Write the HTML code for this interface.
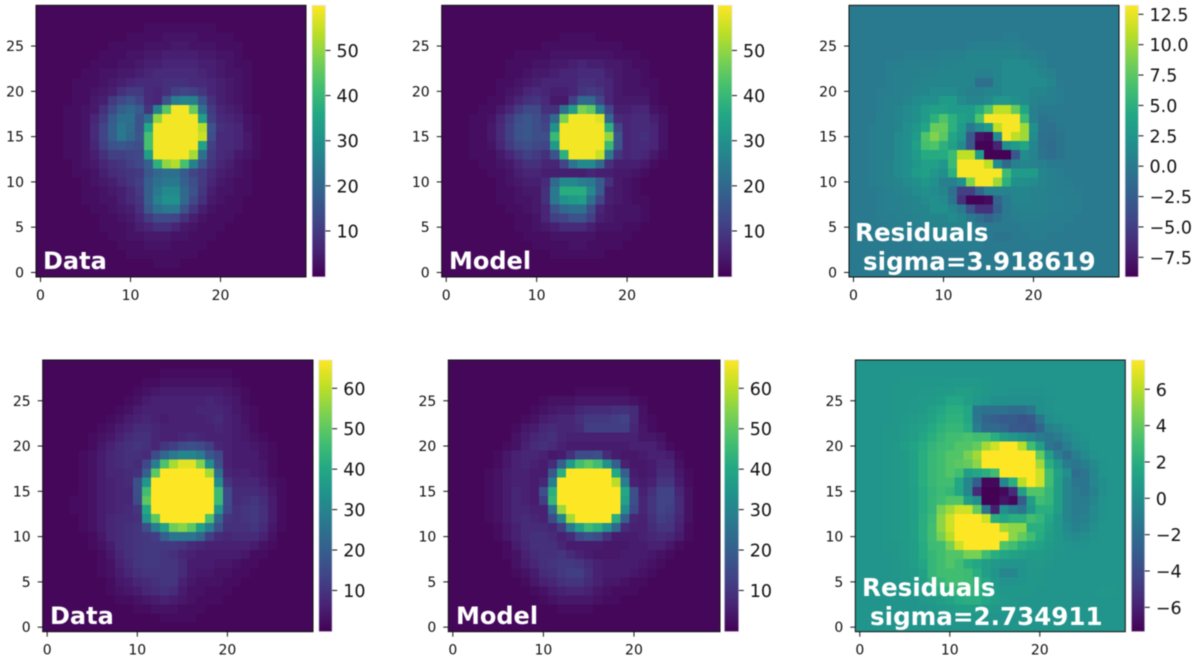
<!DOCTYPE html>
<html lang="en">
<head>
<meta charset="utf-8">
<title>PSF data, model and residuals</title>
<style>
html,body{margin:0;padding:0;background:#fff;width:1200px;height:663px;overflow:hidden}
svg{display:block;font-family:"DejaVu Sans","Liberation Sans",sans-serif;filter:blur(0.55px)}
.ann{font-weight:700;font-size:24px;fill:#fff;white-space:pre}
.ann-wide{font-size:24.6px}
</style>
</head>
<body>
<svg id="fig" width="1200" height="663" viewBox="0 0 1200 663" xmlns="http://www.w3.org/2000/svg">
<defs>
<linearGradient id="viridis-gradient" x1="0" y1="1" x2="0" y2="0">
<stop offset="0" stop-color="#440154"/><stop offset="0.1" stop-color="#482475"/><stop offset="0.2" stop-color="#414487"/><stop offset="0.3" stop-color="#355f8d"/><stop offset="0.4" stop-color="#2a788e"/><stop offset="0.5" stop-color="#21918c"/><stop offset="0.6" stop-color="#22a884"/><stop offset="0.7" stop-color="#44bf70"/><stop offset="0.8" stop-color="#7ad151"/><stop offset="0.9" stop-color="#bddf26"/><stop offset="1" stop-color="#fde725"/>
</linearGradient>
</defs>
<g id="plots"></g>
<g>
<text class="ann" x="43" y="269">Data</text>
<text class="ann" x="449" y="269">Model</text>
<text class="ann ann-wide" x="855" y="241">Residuals</text>
<text class="ann ann-wide" x="863" y="270">sigma=3.918619</text>
<text class="ann" x="50" y="624">Data</text>
<text class="ann" x="456" y="624">Model</text>
<text class="ann ann-wide" x="862" y="596">Residuals</text>
<text class="ann ann-wide" x="870" y="625">sigma=2.734911</text>
</g>
</svg>
<script>
// Rows are listed from the top of each image (row 29) down to row 0.
const dataTop = [
[1,1,1,1,1,1,1,1,1,1,1,1,1,1,1,1,1,1,1,1,1,1,1,1,1,1,1,1,1,1],
[1,1,1,1,1,1,1,1,1,1,1,1,1,1,1,1,1,1,1,1,1,1,1,1,1,1,1,1,1,1],
[1,1,1,1,1,1,1,1,1,1,1,1,2,2,2,2,2,2,2,2,1,1,1,1,1,1,1,1,1,1],
[1,1,1,1,1,1,1,1,1,1,2,2,2,2,3,3,3,3,2,2,2,2,1,1,1,1,1,1,1,1],
[1,1,1,1,1,1,1,1,2,2,2,2,3,3,3,4,4,3,3,3,2,2,2,1,1,1,1,1,1,1],
[1,1,1,1,1,1,1,2,2,2,3,3,4,4,5,5,5,5,4,4,3,3,2,1,1,1,1,1,1,1],
[1,1,1,1,1,1,2,2,2,3,3,4,5,5,6,6,6,6,5,5,4,3,2,2,1,1,1,1,1,1],
[1,1,1,1,1,2,2,3,3,4,4,5,6,7,7,7,7,7,6,5,4,3,3,2,1,1,1,1,1,1],
[1,1,1,1,2,2,2,3,4,5,6,7,7,7,8,8,8,7,7,6,5,4,3,2,1,1,1,1,1,1],
[1,1,1,1,2,2,3,4,5,8,10,10,7,6,8,11,12,11,9,6,5,4,3,2,1,1,1,1,1,1],
[1,1,1,1,2,2,4,5,10,13,15,12,7,6,15,25,27,26,15,8,5,4,3,2,1,1,1,1,1,1],
[1,1,1,2,2,3,4,8,13,18,20,17,9,26,44,59,59,46,22,10,6,5,4,2,1,1,1,1,1,1],
[1,1,1,2,2,3,6,10,17,22,22,15,22,50,59,59,59,59,33,11,7,6,5,3,2,1,1,1,1,1],
[1,1,1,2,2,3,7,12,18,24,21,15,36,59,59,59,59,59,53,15,8,7,6,3,2,1,1,1,1,1],
[1,1,1,2,2,3,7,12,18,24,20,16,42,59,59,59,59,59,55,14,7,7,6,4,2,1,1,1,1,1],
[1,1,1,2,2,3,6,11,15,16,15,14,42,59,59,59,59,59,34,11,7,7,6,4,2,1,1,1,1,1],
[1,1,1,2,2,3,5,8,11,11,12,13,33,59,59,59,59,52,22,10,7,6,4,3,2,1,1,1,1,1],
[1,1,1,1,2,3,4,6,8,9,11,13,18,38,50,53,42,26,15,9,6,5,3,2,1,1,1,1,1,1],
[1,1,1,1,2,2,3,5,7,8,9,10,16,20,22,22,17,12,10,7,5,4,3,2,1,1,1,1,1,1],
[1,1,1,1,1,2,3,4,5,7,9,11,18,22,24,24,18,14,10,6,4,3,2,2,1,1,1,1,1,1],
[1,1,1,1,1,2,2,3,4,5,7,10,18,24,28,28,20,15,9,5,3,3,2,2,1,1,1,1,1,1],
[1,1,1,1,1,2,2,3,3,5,7,9,18,26,30,30,20,13,8,4,3,2,2,1,1,1,1,1,1,1],
[1,1,1,1,1,1,2,2,3,4,5,8,16,22,24,24,15,9,5,3,2,2,2,1,1,1,1,1,1,1],
[1,1,1,1,1,1,1,2,2,3,4,6,10,13,13,12,8,5,3,2,2,2,1,1,1,1,1,1,1,1],
[1,1,1,1,1,1,1,2,2,2,3,5,6,8,8,6,4,3,2,2,2,1,1,1,1,1,1,1,1,1],
[1,1,1,1,1,1,1,1,2,2,3,3,4,4,4,3,3,2,2,2,1,1,1,1,1,1,1,1,1,1],
[1,1,1,1,1,1,1,1,1,2,2,2,3,3,3,2,2,2,2,1,1,1,1,1,1,1,1,1,1,1],
[1,1,1,1,1,1,1,1,1,1,2,2,2,2,2,2,2,2,1,1,1,1,1,1,1,1,1,1,1,1],
[1,1,1,1,1,1,1,1,1,1,1,1,1,2,2,2,1,1,1,1,1,1,1,1,1,1,1,1,1,1],
[1,1,1,1,1,1,1,1,1,1,1,1,1,1,1,1,1,1,1,1,1,1,1,1,1,1,1,1,1,1]
];
const modelTop = [
[1,1,1,1,1,1,1,1,1,1,1,1,1,1,1,1,1,1,1,1,1,1,1,1,1,1,1,1,1,1],
[1,1,1,1,1,1,1,1,1,1,1,1,1,1,1,1,1,1,1,1,1,1,1,1,1,1,1,1,1,1],
[1,1,1,1,1,1,1,1,1,1,1,1,1,1,1,1,1,1,1,1,1,1,1,1,1,1,1,1,1,1],
[1,1,1,1,1,1,1,1,1,1,1,1,1,2,2,2,2,1,1,1,1,1,1,1,1,1,1,1,1,1],
[1,1,1,1,1,1,1,1,1,1,1,2,2,2,2,2,2,2,2,2,1,1,1,1,1,1,1,1,1,1],
[1,1,1,1,1,1,1,1,2,2,2,2,3,3,3,3,3,3,3,2,2,2,1,1,1,1,1,1,1,1],
[1,1,1,1,1,1,1,2,2,2,3,3,4,4,5,6,5,5,4,4,3,2,2,1,1,1,1,1,1,1],
[1,1,1,1,1,1,1,2,2,3,4,4,5,6,6,7,7,7,5,4,3,3,2,1,1,1,1,1,1,1],
[1,1,1,1,1,1,2,2,3,4,5,6,6,6,6,8,8,7,6,4,3,3,2,2,1,1,1,1,1,1],
[1,1,1,1,1,1,2,3,4,6,7,6,5,5,6,9,10,9,6,4,3,3,3,2,1,1,1,1,1,1],
[1,1,1,1,1,2,2,4,6,8,9,7,4,4,11,20,20,12,6,4,4,4,4,2,1,1,1,1,1,1],
[1,1,1,1,2,2,4,6,10,13,13,8,8,22,33,48,45,26,12,5,5,6,6,3,2,1,1,1,1,1],
[1,1,1,2,2,3,6,10,14,16,14,11,20,48,59,59,59,57,20,7,6,7,7,5,3,1,1,1,1,1],
[1,1,1,2,2,4,7,11,15,16,14,12,30,59,59,59,59,59,38,12,6,7,7,6,3,1,1,1,1,1],
[1,1,1,2,2,4,7,11,15,16,14,14,40,59,59,59,59,59,50,16,6,7,8,6,3,1,1,1,1,1],
[1,1,1,2,2,3,6,10,13,14,13,12,32,59,59,59,59,59,40,15,6,7,7,6,3,1,1,1,1,1],
[1,1,1,2,2,2,4,6,9,11,10,8,15,38,59,59,59,55,24,9,6,7,6,4,2,1,1,1,1,1],
[1,1,1,1,2,2,3,4,6,8,8,6,6,12,23,28,28,20,8,5,5,5,4,2,1,1,1,1,1,1],
[1,1,1,1,1,2,2,3,5,6,6,5,5,5,5,5,6,5,5,4,4,3,2,1,1,1,1,1,1,1],
[1,1,1,1,1,1,2,3,4,5,5,7,20,28,28,25,24,17,8,4,3,2,1,1,1,1,1,1,1,1],
[1,1,1,1,1,1,2,2,3,4,4,8,24,37,37,37,28,17,5,4,3,2,1,1,1,1,1,1,1,1],
[1,1,1,1,1,1,2,2,3,3,4,8,24,30,32,33,22,12,5,4,3,2,2,1,1,1,1,1,1,1],
[1,1,1,1,1,1,1,2,2,3,4,6,15,20,22,22,14,6,4,3,3,3,2,1,1,1,1,1,1,1],
[1,1,1,1,1,1,1,1,2,2,3,6,11,12,15,15,11,5,4,3,3,3,2,1,1,1,1,1,1,1],
[1,1,1,1,1,1,1,1,2,2,3,4,5,7,7,7,5,3,3,3,2,2,1,1,1,1,1,1,1,1],
[1,1,1,1,1,1,1,1,1,2,2,2,3,3,3,3,3,2,2,2,2,1,1,1,1,1,1,1,1,1],
[1,1,1,1,1,1,1,1,1,1,2,2,2,2,3,3,2,2,2,2,1,1,1,1,1,1,1,1,1,1],
[1,1,1,1,1,1,1,1,1,1,1,1,2,2,2,2,2,2,1,1,1,1,1,1,1,1,1,1,1,1],
[1,1,1,1,1,1,1,1,1,1,1,1,1,1,1,1,1,1,1,1,1,1,1,1,1,1,1,1,1,1],
[1,1,1,1,1,1,1,1,1,1,1,1,1,1,1,1,1,1,1,1,1,1,1,1,1,1,1,1,1,1]
];
const residualsTop = [
[0,0,0,0,0,0,0,0,0,0,0,0,0,0,0,0,0,0,0,0,0,0,0,0,0,0,0,0,0,0],
[0,0,0,0,0,0,0,0,0,0,0,0,0,0,0,0,0,0,0,0,0,0,0,0,0,0,0,0,0,0],
[0,0,0,0,0,0,0,0,0,0,0,0,0,0,0,0,0,0,0,0,0,0,0,0,0,0,0,0,0,0],
[0,0,0,0,0,0,0,0,0,0,0,0,0,0,0,0,0,0.3,0.3,0,0,0,0,0,0,0,0,0,0,0],
[0,0,0,0,0,0,0,0,0,0,0,0,0,0.3,0.5,0.5,0.5,0.5,0.5,0.3,0,0,0,0,0,0,0,0,0,0],
[0,0,0,0,0,0,0.3,0.3,0.3,0.3,0.5,0.5,0.5,1,1,1,1,1,1,0.5,0.5,0.3,0,0,0,0,0,0,0,0],
[0,0,0,0,0.3,0.3,0.5,0.5,0.5,0.5,0.8,0.8,1,1,1,1,1,1.5,1.5,1.5,1,0.5,0,0,0,0,0,0,0,0],
[0,0,0,0,0.3,0.5,0.5,0.5,0.8,0.8,1,1,1,1,0.5,0.5,1,1.5,1.5,1.5,1.5,1,0.5,0,0,0,0,0,0,0],
[0,0,0,0,0.3,0.5,0.5,0.8,1,1,1,1,1,1,-1,-1,1,1.5,1.5,1.5,1.5,1.5,1,0,0,0,0,0,0,0],
[0,0,0,0.3,0.3,0.5,0.8,1,1,1.5,1.5,1.5,1,0.5,0.5,1,1,1.5,1.5,1.5,1,1,0.5,0.3,0,0,0,0,0,0],
[0,0,0,0.3,0.5,0.5,1,1.5,2,2,3,3,1.5,1,1,1.5,2.5,2.5,2,1.5,0.8,0.5,0.5,0.3,0,0,0,0,0,0],
[0,0,0,0.3,0.5,1,1.5,2,3,3.5,3.5,3,3,3,4.5,7,11,11,8,4,0.5,0,0,0,0,0,0,0,0,0],
[0,0,0,0.5,0.5,1,1.5,2,3,5,7,5,3.5,3,7,13,13,13,13,6,0.5,-0.5,-0.3,0,0,0,0,0,0,0],
[0,0,0.3,0.5,0.5,1,2,2.5,4,8,8,5,3,0,1.5,3,11,13,13,10,2,-0.5,-0.8,-0.3,0,0,0,0,0,0],
[0,0,0.3,0.5,0.5,1.5,2,3,7,9,7.5,4,2.5,-3,-8,-8.5,1.5,13,11,10,1.5,-0.8,-1,-0.5,0,0,0,0,0,0],
[0,0,0.3,0.5,0.5,1.5,2,3.5,6.5,7,5,3.5,1.5,-3,-9,-9,-7,2,3,4,1,-0.8,-1.2,-0.5,0,0,0,0,0,0],
[0,0,0.3,0.5,0.5,1.5,2,3,4.5,4.5,4.5,6,11,11,3,-9,-9,-9,-3,1.5,0.8,-0.5,-1.2,-0.5,0,0,0,0,0,0],
[0,0,0.3,0.5,0.8,1.5,2,2.5,3.5,3.5,2.5,6,13,13,13,11,1.5,-1.5,0.5,1,0.8,0.5,0,0,0,0,0,0,0,0],
[0,0,0.3,0.5,0.8,1.5,2,3,3.5,2.5,2,5,13,13,13,13,13,6,3,3,3,1,0.5,0.3,0,0,0,0,0,0],
[0,0,0.3,0.5,0.8,1,1.5,2,2.5,2,0.5,0.5,2,9,13,13,10,5,2,2,1.5,1,0.5,0.3,0.2,0,0,0,0,0],
[0,0,0,0.3,0.5,0.8,1,1.5,2,1.5,1,-1,-5,-5,-2,0.5,0.8,0.8,1,1,0.8,0.8,0.5,0.3,0.3,0.2,0,0,0,0],
[0,0,0,0.3,0.5,0.5,0.8,1,1.5,2,1.5,-0.5,-6,-9,-9,-8.5,-2,0,1,1,0.8,0.8,0.5,0.5,0.3,0.3,0,0,0,0],
[0,0,0,0.3,0.5,0.5,0.8,1,1,2,2,1,0,-3.5,-6,-6,-2.5,0,0.5,0.8,0.8,0.8,0.5,0.5,0.3,0.3,0,0,0,0],
[0,0,0,0.3,0.3,0.5,0.5,0.8,1,1,1,1.5,1,0,-1,-2,-1,0,0.3,0.5,0.5,0.5,0.3,0.3,0.3,0,0,0,0,0],
[0,0,0,0,0.3,0.3,0.5,0.5,0.5,0.8,0.8,0.8,0.8,0.5,0,0,0,0,0,0.3,0.3,0.3,0.3,0.3,0,0,0,0,0,0],
[0,0,0,0,0,0.3,0.3,0.3,0.3,0.5,0.5,0.5,0.5,0.3,0.3,0,-0.5,-0.5,0,0,0.3,0.3,0,0,0,0,0,0,0,0],
[0,0,0,0,0,0,0,0.3,0.3,0.3,0.3,0.3,0.3,0.3,0.3,0,0,0,0,0,0,0,0,0,0,0,0,0,0,0],
[0,0,0,0,0,0,0,0,0,0,0,0,0,0,0,0,0,0,0,0,0,0,0,0,0,0,0,0,0,0],
[0,0,0,0,0,0,0,0,0,0,0,0,0,0,0,0,0,0,0,0,0,0,0,0,0,0,0,0,0,0],
[0,0,0,0,0,0,0,0,0,0,0,0,0,0,0,0,0,0,0,0,0,0,0,0,0,0,0,0,0,0]
];
const dataBottom = [
[1,1,1,1,1,1,1,1,1,1,1,1,1,1,1,1,1,1,1,1,1,1,1,1,1,1,1,1,1,1],
[1,1,1,1,1,1,1,1,1,1,1,1,1,2,2,2,2,2,2,2,2,1,1,1,1,1,1,1,1,1],
[1,1,1,1,1,1,1,1,1,1,1,2,2,3,3,3,3,3,3,3,3,2,1,1,1,1,1,1,1,1],
[1,1,1,1,1,1,1,1,1,1,2,3,4,5,5,5,5,5,5,5,4,3,2,1,1,1,1,1,1,1],
[1,1,1,1,1,1,1,1,1,2,3,5,6,6,6,6,6,6,7,6,5,4,2,1,1,1,1,1,1,1],
[1,1,1,1,1,1,1,1,2,3,5,6,6,6,6,6,6,7,7,7,6,4,3,2,1,1,1,1,1,1],
[1,1,1,1,1,1,1,2,3,5,6,7,6,5,6,6,6,6,7,8,6,5,3,2,1,1,1,1,1,1],
[1,1,1,1,1,1,2,3,5,6,8,8,7,6,6,6,6,6,6,7,6,5,4,2,1,1,1,1,1,1],
[1,1,1,1,1,2,3,4,6,8,9,9,7,6,6,7,8,7,6,6,6,5,4,3,2,1,1,1,1,1],
[1,1,1,1,1,2,4,6,8,9,10,9,7,10,12,15,16,15,12,7,6,5,5,4,3,2,1,1,1,1],
[1,1,1,1,2,3,5,7,8,9,9,8,15,22,27,30,30,27,18,14,6,5,5,5,3,2,1,1,1,1],
[1,1,1,1,2,3,5,7,8,9,8,14,28,48,58,64,64,54,32,16,6,5,5,5,4,2,1,1,1,1],
[1,1,1,1,2,3,5,7,7,8,9,20,50,67,67,67,67,67,58,24,7,6,6,5,4,2,1,1,1,1],
[1,1,1,1,2,3,5,6,7,8,16,35,67,67,67,67,67,67,67,32,10,7,7,7,5,3,2,1,1,1],
[1,1,1,1,2,3,5,6,7,7,16,46,67,67,67,67,67,67,67,45,15,8,8,8,7,4,2,1,1,1],
[1,1,1,2,2,3,5,6,7,7,15,50,67,67,67,67,67,67,67,45,15,8,9,10,8,5,2,1,1,1],
[1,1,1,2,2,3,5,6,7,8,10,40,67,67,67,67,67,67,67,35,14,9,10,11,9,5,2,1,1,1],
[1,1,1,1,2,3,5,7,8,8,9,35,50,67,67,67,67,67,48,22,10,9,10,11,9,5,2,1,1,1],
[1,1,1,1,2,3,5,7,8,9,10,16,28,38,52,55,50,38,28,16,9,9,9,10,8,4,2,1,1,1],
[1,1,1,1,1,2,4,7,8,9,10,11,12,20,26,26,26,22,12,8,7,8,8,8,6,3,1,1,1,1],
[1,1,1,1,1,2,3,5,8,9,10,11,11,11,11,10,8,7,6,6,6,6,6,5,3,2,1,1,1,1],
[1,1,1,1,1,1,2,4,7,9,10,11,11,10,9,7,6,5,5,5,5,5,4,2,2,1,1,1,1,1],
[1,1,1,1,1,1,2,3,6,8,10,11,11,10,10,8,5,5,5,4,4,3,2,2,1,1,1,1,1,1],
[1,1,1,1,1,1,2,3,5,7,9,10,10,10,10,8,5,4,4,3,3,2,2,1,1,1,1,1,1,1],
[1,1,1,1,1,1,1,2,4,5,7,8,9,10,10,6,4,3,3,3,2,2,1,1,1,1,1,1,1,1],
[1,1,1,1,1,1,1,2,3,4,5,7,8,9,8,5,3,3,2,2,2,1,1,1,1,1,1,1,1,1],
[1,1,1,1,1,1,1,1,2,2,3,4,5,6,5,4,3,2,2,2,1,1,1,1,1,1,1,1,1,1],
[1,1,1,1,1,1,1,1,1,1,2,2,3,3,3,2,2,2,1,1,1,1,1,1,1,1,1,1,1,1],
[1,1,1,1,1,1,1,1,1,1,1,1,1,2,2,2,2,1,1,1,1,1,1,1,1,1,1,1,1,1],
[1,1,1,1,1,1,1,1,1,1,1,1,1,1,1,1,1,1,1,1,1,1,1,1,1,1,1,1,1,1]
];
const modelBottom = [
[1,1,1,1,1,1,1,1,1,1,1,1,1,1,1,1,1,1,1,1,1,1,1,1,1,1,1,1,1,1],
[1,1,1,1,1,1,1,1,1,1,1,1,1,1,1,1,1,1,1,1,1,1,1,1,1,1,1,1,1,1],
[1,1,1,1,1,1,1,1,1,1,1,1,1,1,1,1,1,1,1,1,1,1,1,1,1,1,1,1,1,1],
[1,1,1,1,1,1,1,1,1,1,1,1,1,1,2,2,2,2,2,2,1,1,1,1,1,1,1,1,1,1],
[1,1,1,1,1,1,1,1,1,1,2,3,3,3,4,4,4,4,4,4,3,2,1,1,1,1,1,1,1,1],
[1,1,1,1,1,1,1,1,1,2,3,4,5,5,7,8,8,8,9,9,8,3,1,1,1,1,1,1,1,1],
[1,1,1,1,1,1,1,1,2,3,5,6,7,7,9,11,11,11,12,13,8,3,2,1,1,1,1,1,1,1],
[1,1,1,1,1,1,1,2,4,5,7,8,7,7,8,12,12,12,12,12,7,4,2,1,1,1,1,1,1,1],
[1,1,1,1,1,1,1,3,5,7,8,9,7,6,6,6,6,6,6,6,6,4,4,3,1,1,1,1,1,1],
[1,1,1,1,1,1,2,3,6,8,9,8,6,5,5,5,5,5,5,5,6,6,6,4,2,1,1,1,1,1],
[1,1,1,1,1,2,4,6,7,7,6,4,5,9,15,15,16,8,5,4,4,5,6,6,5,2,1,1,1,1],
[1,1,1,1,1,2,4,6,7,6,5,8,20,36,46,50,46,34,20,6,4,4,5,7,7,3,1,1,1,1],
[1,1,1,1,2,3,5,6,6,5,5,18,42,67,67,67,67,67,40,20,5,4,5,8,8,4,2,1,1,1],
[1,1,1,1,2,3,5,6,6,5,7,28,67,67,67,67,67,67,60,28,6,5,6,10,10,5,2,1,1,1],
[1,1,1,1,2,3,5,7,6,5,16,42,67,67,67,67,67,67,67,40,16,6,9,13,13,7,3,1,1,1],
[1,1,1,1,2,3,5,7,6,5,12,44,67,67,67,67,67,67,67,38,16,7,10,13,13,8,3,1,1,1],
[1,1,1,1,2,3,5,7,7,6,6,24,57,67,67,67,67,67,67,32,14,7,10,13,12,8,3,1,1,1],
[1,1,1,1,2,3,5,7,8,7,6,15,30,58,67,67,67,67,42,20,7,6,9,12,11,7,3,1,1,1],
[1,1,1,1,1,2,4,6,8,8,8,7,12,27,38,45,42,34,22,8,6,6,8,10,10,6,2,1,1,1],
[1,1,1,1,1,2,4,6,8,9,9,8,6,8,14,17,15,9,5,5,5,6,7,8,7,5,2,1,1,1],
[1,1,1,1,1,1,2,5,7,9,9,9,7,5,5,5,5,4,4,4,5,5,6,6,4,2,1,1,1,1],
[1,1,1,1,1,1,2,3,6,8,9,9,10,8,6,5,4,4,4,5,5,5,4,3,2,1,1,1,1,1],
[1,1,1,1,1,1,1,3,5,7,9,10,11,11,10,8,6,5,5,5,5,4,3,2,1,1,1,1,1,1],
[1,1,1,1,1,1,1,2,3,5,8,9,11,12,12,9,6,5,5,5,4,3,2,1,1,1,1,1,1,1],
[1,1,1,1,1,1,1,1,2,4,6,7,9,10,10,8,6,4,4,3,2,2,1,1,1,1,1,1,1,1],
[1,1,1,1,1,1,1,1,1,2,3,5,6,7,7,6,4,3,2,2,2,1,1,1,1,1,1,1,1,1],
[1,1,1,1,1,1,1,1,1,1,2,3,4,4,4,4,3,2,2,1,1,1,1,1,1,1,1,1,1,1],
[1,1,1,1,1,1,1,1,1,1,1,1,2,2,2,2,1,1,1,1,1,1,1,1,1,1,1,1,1,1],
[1,1,1,1,1,1,1,1,1,1,1,1,1,1,1,1,1,1,1,1,1,1,1,1,1,1,1,1,1,1],
[1,1,1,1,1,1,1,1,1,1,1,1,1,1,1,1,1,1,1,1,1,1,1,1,1,1,1,1,1,1]
];
const residualsBottom = [
[0.3,0.3,0.3,0.3,0.3,0.3,0.3,0.3,0.3,0.3,0.3,0.3,0.3,0.3,0.3,0.3,0.3,0.3,0.3,0.3,0.3,0.3,0.3,0.3,0.3,0.3,0.3,0.3,0.3,0.3],
[0.3,0.4,0.4,0.4,0.4,0.4,0.4,0.4,0.4,0.4,0.4,0.4,0.4,0.4,0.4,0.4,0.4,0.4,0.3,0.3,0.3,0.3,0.3,0.3,0.3,0.3,0.3,0.3,0.3,0.3],
[0.3,0.4,0.4,0.4,0.4,0.5,0.5,0.5,0.5,0.5,0.6,0.6,0.6,0.6,0.5,0.4,0.4,0.4,0.3,0.3,0.3,0.3,0.3,0.3,0.3,0.3,0.3,0.3,0.3,0.3],
[0.3,0.4,0.4,0.4,0.5,0.5,0.5,0.6,0.6,0.8,0.8,1,1,0.8,0.5,0.4,0.3,0.2,0.2,0.2,0.2,0.3,0.3,0.3,0.3,0.3,0.3,0.3,0.3,0.3],
[0.3,0.4,0.4,0.4,0.5,0.5,0.6,0.7,0.8,1,1.5,1.5,1,0.6,0.3,0,0,0,0,0,0.1,0.2,0.3,0.3,0.3,0.3,0.3,0.3,0.3,0.3],
[0.3,0.4,0.4,0.4,0.5,0.5,0.6,0.8,1.2,1.5,2,2,1.5,-1.5,-1.8,-1.8,-1.8,-2,-2,-1.5,0,0.2,0.3,0.3,0.3,0.3,0.3,0.3,0.3,0.3],
[0.3,0.4,0.4,0.4,0.5,0.6,0.8,1,1.3,1.8,2.2,2.2,1.5,-1.5,-2.5,-2.8,-3.2,-3,-3.5,-3.2,-1.5,0,0.2,0.3,0.3,0.3,0.3,0.3,0.3,0.3],
[0.3,0.4,0.4,0.5,0.5,0.7,0.9,1.2,1.7,2.2,2.5,2.5,1.8,-1,-2.2,-2.2,-2.5,-3.2,-3.2,-3.5,-2.5,-0.8,-0.5,0,0.2,0.3,0.3,0.3,0.3,0.3],
[0.3,0.4,0.4,0.5,0.5,0.8,1,1.5,2,2.5,3,3,3.3,3,3,2,1,0.5,0,-0.5,-1.2,-1.5,-1.2,-0.5,0,0.2,0.3,0.3,0.3,0.3],
[0.3,0.4,0.4,0.5,0.6,1,1.3,1.8,2.4,2.8,3,3.5,3.5,4,5.5,6.5,7.6,7.6,6,3,1,-1.5,-2,-1,-0.3,0.1,0.3,0.3,0.3,0.3],
[0.3,0.4,0.4,0.5,0.6,0.8,1.2,2,2.6,3,3.5,3.5,4.5,5.5,7.6,7.6,7.6,7.6,7.6,7.6,4,1,-1,-2,-1,-0.3,0.2,0.3,0.3,0.3],
[0.3,0.4,0.4,0.5,0.6,0.8,1.2,2,2.6,3,3.5,3.8,4,5,7.6,7.6,7.6,7.6,7.6,7.6,5.5,2,0.5,-1.2,-1.5,-1,-0.2,0.2,0.3,0.3],
[0.3,0.4,0.4,0.5,0.6,0.8,1.2,2,2.6,3,3.5,3,1,1.5,2,3,7.6,7.6,7.6,7.6,6.5,3,1.2,0,-2,-1.5,-0.5,0.2,0.3,0.3],
[0.3,0.4,0.4,0.5,0.6,0.8,1.2,2,2.6,3,3,1.5,-0.5,-3,-7,-7,-0.5,2,6,7.6,6.5,3,1,-0.5,-1.5,-1.5,-0.5,0.1,0.3,0.3],
[0.3,0.4,0.4,0.5,0.6,0.8,1.1,1.8,2.4,2.8,2.5,1.5,-0.5,-5.5,-7.3,-7.3,-7,-5.5,1,3.5,3.5,2.5,1,-0.5,-1.2,-1.5,-0.8,0.1,0.3,0.3],
[0.3,0.4,0.4,0.5,0.6,0.8,1.1,1.8,2.5,3,3.5,3.5,1,0,-7.3,-7.3,-6.5,-7,-3,1,3,2.5,1,-0.5,-1.2,-1.2,-0.5,0.2,0.3,0.3],
[0.3,0.4,0.4,0.5,0.6,0.8,1.1,1.8,2.5,4.5,5.5,6.5,6.5,4,-1.5,-6,0,-1,-1.5,0.5,2,2,1,-0.5,-1.2,-1,-0.3,0.2,0.3,0.3],
[0.3,0.4,0.4,0.5,0.6,0.8,1.1,2,2.8,5,6.5,7.6,7.6,7.6,6.5,2,1.5,2,2,3,2.5,1.5,0.5,-0.5,-1,-0.8,-0.2,0.2,0.3,0.3],
[0.3,0.4,0.4,0.5,0.6,0.8,1.1,2,3,5,6.5,7.6,7.6,7.6,7.6,7.6,5.5,5,5,2,2,1.2,0.5,-0.3,-0.8,-0.5,0,0.3,0.3,0.3],
[0.3,0.4,0.4,0.5,0.6,0.8,1.1,2,3,4.5,6,7.6,7.6,7.6,7.6,7.6,7.6,5,4,3,1.8,1,0.5,0,-0.3,0,0.2,0.3,0.3,0.3],
[0.3,0.4,0.4,0.5,0.5,0.7,1,1.8,2.8,3,4.5,6.5,7.6,7.6,7.6,7.6,3.5,3,2,1.5,1.2,0.8,0.5,0.3,0.2,0.2,0.3,0.3,0.3,0.3],
[0.3,0.4,0.4,0.4,0.5,0.7,1,1.8,2.5,3,3.5,3.5,4.5,4.5,3,2,1.5,1.2,1,0.8,0.8,0.6,0.4,0.3,0.3,0.3,0.3,0.3,0.3,0.3],
[0.3,0.4,0.4,0.4,0.5,0.6,0.9,1.5,2.5,3,3.5,3,2,1.5,1,0.6,0.4,0.4,0.4,0.6,0.6,0.5,0.4,0.3,0.3,0.3,0.3,0.3,0.3,0.3],
[0.3,0.3,0.4,0.4,0.5,0.6,0.8,1.2,2.5,3,3,3,2.8,2,1,0.3,-0.5,-0.5,0.2,0.5,0.5,0.4,0.4,0.3,0.3,0.3,0.3,0.3,0.3,0.3],
[0.3,0.3,0.3,0.4,0.4,0.5,0.7,1,2,2.5,3,3,2.8,2.4,1.5,0.6,0.2,0.2,0.4,0.5,0.5,0.4,0.4,0.3,0.3,0.3,0.3,0.3,0.3,0.3],
[0.3,0.3,0.3,0.3,0.4,0.4,0.6,0.8,1.2,1.8,2.2,2.5,2.5,2.2,1.5,0.8,0.5,0.5,0.5,0.5,0.4,0.4,0.3,0.3,0.3,0.3,0.3,0.5,0.5,0.3],
[0.3,0.3,0.3,0.3,0.3,0.4,0.4,0.6,0.8,1,1.3,1.8,2,2,1.5,1,0.6,0.5,0.4,0.4,0.4,0.3,0.3,0.3,0.3,0.3,0.3,0.3,0.3,0.3],
[0.3,0.3,0.3,0.3,0.3,0.3,0.4,0.4,0.5,0.6,0.8,1,1,1,0.8,0.6,0.5,0.4,0.4,0.3,0.3,0.3,0.3,0.3,0.3,0.3,0.3,0.3,0.3,0.3],
[0.3,0.3,0.3,0.3,0.3,0.3,0.3,0.3,0.3,0.4,0.4,0.5,0.5,0.5,0.4,0.4,0.3,0.3,0.3,0.3,0.3,0.3,0.3,0.3,0.3,0.3,0.3,0.3,0.3,0.3],
[0.3,0.3,0.3,0.3,0.3,0.3,0.3,0.3,0.3,0.3,0.3,0.3,0.3,0.3,0.3,0.3,0.3,0.3,0.3,0.3,0.3,0.3,0.3,0.3,0.3,0.3,0.3,0.3,0.3,0.3]
];
const xTickValues = [0, 10, 20];
const yTickValues = [0, 5, 10, 15, 20, 25];
const cbarTicksData = [10, 20, 30, 40, 50];
const cbarTicksDataBottom = [10, 20, 30, 40, 50, 60];
const cbarTicksResidTop = [-7.5, -5, -2.5, 0, 2.5, 5, 7.5, 10, 12.5];
const cbarTicksResidBottom = [-6, -4, -2, 0, 2, 4, 6];
const viridisStops = [[68,1,84],[72,36,117],[65,68,135],[53,95,141],[42,120,142],[33,145,140],[34,168,132],[68,191,112],[122,209,81],[189,223,38],[253,231,37]];

const panels = [
 {name:'data-top',grid:dataTop,ticks:cbarTicksData,fmt:String,vmin:-0.2,vmax:60,x:36,y:5.3,w:270,h:271.7,cx:312,cw:13.5},
 {name:'model-top',grid:modelTop,ticks:cbarTicksData,fmt:String,vmin:-0.2,vmax:60,x:441.7,y:5.3,w:271.3,h:271.7,cx:717.7,cw:14.3},
 {name:'residuals-top',grid:residualsTop,ticks:cbarTicksResidTop,fmt:v=>v.toFixed(1).replace('-','\u2212'),vmin:-9.12,vmax:13.24,x:849,y:5.3,w:270,h:271.7,cx:1125,cw:13.5},
 {name:'data-bottom',grid:dataBottom,ticks:cbarTicksDataBottom,fmt:String,vmin:-0.2,vmax:67,x:42.7,y:360,w:270.3,h:271.7,cx:318.7,cw:13.5},
 {name:'model-bottom',grid:modelBottom,ticks:cbarTicksDataBottom,fmt:String,vmin:-0.2,vmax:67,x:448.3,y:360,w:271.7,h:271.7,cx:724.3,cw:14.5},
 {name:'residuals-bottom',grid:residualsBottom,ticks:cbarTicksResidBottom,fmt:v=>String(v).replace('-','\u2212'),vmin:-7.34,vmax:7.61,x:855.3,y:360,w:270,h:271.7,cx:1131.3,cw:13.5}
];

const NS = 'http://www.w3.org/2000/svg';
const root = document.getElementById('plots');
function make(tag, attrs, parent){
  const el = document.createElementNS(NS, tag);
  for (const k in attrs) el.setAttribute(k, attrs[k]);
  parent.appendChild(el);
  return el;
}
function viridis(t){
  t = Math.max(0, Math.min(1, t)) * 10;
  const i = Math.min(9, Math.floor(t)), f = t - i, a = viridisStops[i], b = viridisStops[i + 1];
  return 'rgb(' + a.map((c, k) => Math.round(c + (b[k] - c) * f)).join(',') + ')';
}
panels.forEach(function(p){
  const g = make('g', {}, root);
  
  
  const n = p.grid.length;
  const cw = p.w / n, ch = p.h / n;
  const xScale = v => p.x + (v + 0.5) * cw;
  const yScale = v => p.y + p.h - (v + 0.5) * ch;
  const cScale = v => p.y + p.h - (v - p.vmin) / (p.vmax - p.vmin) * p.h;
  const heat = make('g', {'shape-rendering':'crispEdges'}, g);
  
  
  p.grid.forEach(function(row, ri){
    const rowIndex = n - 1 - ri;
    row.forEach(function(v, c){
      const r = make('rect', {x:xScale(c) - cw / 2, y:yScale(rowIndex) - ch / 2, width:cw + 0.4, height:ch + 0.4, fill:viridis((v - p.vmin) / (p.vmax - p.vmin))}, heat);
      
      
    });
  });
  const frame = make('rect', {x:p.x, y:p.y, width:p.w, height:p.h, fill:'none', stroke:'#111', 'stroke-width':1}, g);
  
  
  xTickValues.forEach(function(v){
    const x = xScale(v);
    const t = make('line', {x1:x, x2:x, y1:p.y + p.h, y2:p.y + p.h + 5, stroke:'#111', 'stroke-width':1}, g);
    
    
    const l = make('text', {x:x, y:p.y + p.h + 23, 'text-anchor':'middle', 'font-size':14, fill:'#111'}, g);
    l.textContent = String(v);
    
    
  });
  yTickValues.forEach(function(v){
    const y = yScale(v);
    const t = make('line', {x1:p.x - 5, x2:p.x, y1:y, y2:y, stroke:'#111', 'stroke-width':1}, g);
    
    
    const l = make('text', {x:p.x - 12, y:y + 5, 'text-anchor':'end', 'font-size':14, fill:'#111'}, g);
    l.textContent = String(v);
    
    
  });
  const bar = make('rect', {x:p.cx, y:p.y, width:p.cw, height:p.h, fill:'url(#viridis-gradient)', stroke:'#e6e3f0', 'stroke-width':0.8}, g);
  
  
  p.ticks.forEach(function(v){
    const y = cScale(v);
    const t = make('line', {x1:p.cx + p.cw, x2:p.cx + p.cw + 5, y1:y, y2:y, stroke:'#111', 'stroke-width':1}, g);
    
    
    const l = make('text', {x:p.cx + p.cw + 11, y:y + 6.5, 'font-size':17.5, fill:'#111'}, g);
    l.textContent = p.fmt(v);
    
    
  });
});
</script>
</body>
</html>
